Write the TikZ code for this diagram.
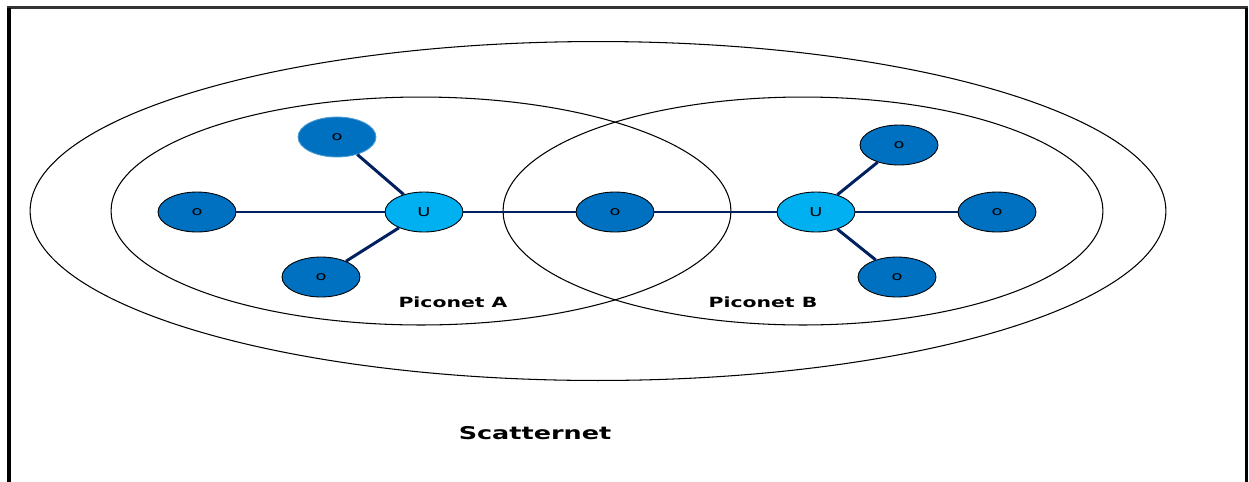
\documentclass[tikz,border=0pt]{standalone}
\usepackage{fontspec}
\setmainfont{DejaVu Sans}[FakeStretch=1.45]
\usetikzlibrary{shapes.geometric,positioning}
\definecolor{linknavy}{HTML}{002060}
\definecolor{devblue}{HTML}{0070C0}
\definecolor{hubblue}{HTML}{00B0F0}

\begin{document}
\begin{tikzpicture}[
  x=0.02cm, y=-0.02cm,
  net/.style={draw, ellipse, line width=0.6pt, inner sep=0pt},
  dev/.style={draw, ellipse, fill=devblue, line width=0.5pt, inner sep=0pt,
    minimum width=1.56cm, minimum height=0.8cm, font=\fontsize{7}{8}\selectfont},
  hub/.style={dev, fill=hubblue},
  link/.style={linknavy, line width=1.7pt},
  lbl/.style={font=\bfseries\fontsize{8}{10}\selectfont}
]
\useasboundingbox (0,0) rectangle (1249,481);

% frame
\coordinate (fbl) at (9,485);
\coordinate (ftl) at (9,7.5);
\coordinate (ftr) at (1246.5,7.5);
\coordinate (fbr) at (1246.5,485);
\draw[line width=1.4pt, black!80] (7,7.5) -- (1248,7.5);
\draw[line width=2.3pt] (fbl) -- (ftl);
\draw[line width=1.7pt] (ftr) -- (fbr);

% scatternet and piconets
\node[net, minimum width=22.72cm, minimum height=6.78cm] (scat) at (598,211) {};
\node[net, minimum width=12.4cm, minimum height=4.56cm] (picoA) at (421,211) {};
\node[net, minimum width=12cm, minimum height=4.56cm] (picoB) at (803,211) {};

% devices
\node[hub] (uA) at (424,212) {U};
\node[dev, draw=devblue!70!white] (a1) at (337,137) {o};
\node[dev] (a2) at (197,212) {o};
\node[dev] (a3) at (321,277) {o};
\node[dev] (br) at (615,212) {o};
\node[hub] (uB) at (816,212) {U};
\node[dev] (b1) at (899,145) {o};
\node[dev] (b2) at (997,212) {o};
\node[dev] (b3) at (897,277) {o};

\draw[link] (uA) -- (a1);
\draw[link] (uA) -- (a2);
\draw[link] (uA) -- (a3);
\draw[link] (uA) -- (br);
\draw[link] (br) -- (uB);
\draw[link] (uB) -- (b1);
\draw[link] (uB) -- (b2);
\draw[link] (uB) -- (b3);

% labels
\node[lbl] (labA) at (453,302) {Piconet A};
\node[lbl] (labB) at (763,302) {Piconet B};
\node[lbl, font=\bfseries\fontsize{10}{12}\selectfont] (labS) at (535,433) {Scatternet};
\end{tikzpicture}
\end{document}
